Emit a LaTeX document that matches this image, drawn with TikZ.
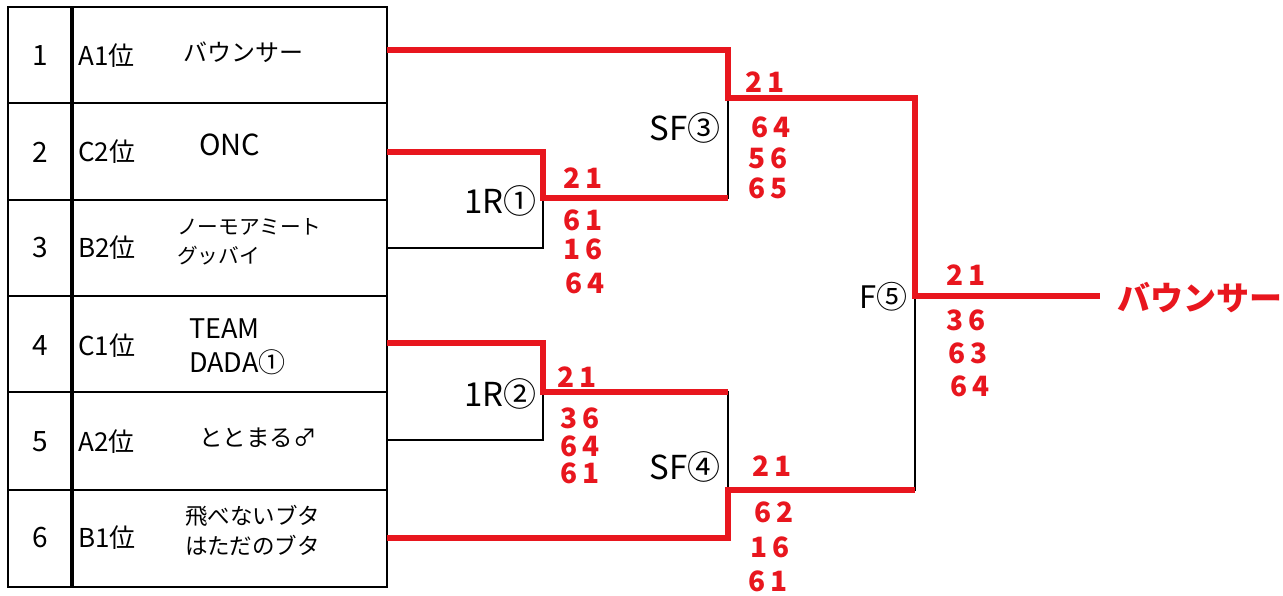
\documentclass[tikz,border=0pt]{standalone}
\usepackage{fontspec}
\setmainfont{Noto Sans CJK JP}
\definecolor{wred}{RGB}{232,22,30}
\newcommand\FsA[1]{\fontsize{#1}{#1}\selectfont}
\newcommand\scr[2]{#1\kern0.18em#2}
\begin{document}
\begin{tikzpicture}[x=1pt,y=-1pt,
  gridline/.style={line width=2.6pt,black},
  lose/.style={line width=2.8pt,black},
  win/.style={line width=6pt,wred},
  txt/.style={inner sep=0pt,text=black},
  numtxt/.style={txt,font=\FsA{28}},
  ranktxt/.style={txt,anchor=west,font=\FsA{26}},
  rnd/.style={txt,anchor=east,font=\FsA{33}},
  score/.style={inner sep=0pt,text=wred,font=\FsA{28}\bfseries}]
\useasboundingbox (0,0) rectangle (1283,596);
% table
\draw[gridline] (8,7) rectangle (387,587);
\draw[line width=3.2pt] (72,7) -- (72,587);
\foreach \yy in {103,200,296,392,490} \draw[gridline] (8,\yy) -- (387,\yy);
% numbers
\node[numtxt] (n1) at (40,56) {1};
\node[numtxt] (n2) at (40,152) {2};
\node[numtxt] (n3) at (40,248) {3};
\node[numtxt] (n4) at (40,346) {4};
\node[numtxt] (n5) at (40,442) {5};
\node[numtxt] (n6) at (40,538) {6};
% ranks
\node[ranktxt] (r1) at (78,56) {A1位};
\node[ranktxt] (r2) at (78,152) {C2位};
\node[ranktxt] (r3) at (78,248) {B2位};
\node[ranktxt] (r4) at (78,346) {C1位};
\node[ranktxt] (r5) at (78,442) {A2位};
\node[ranktxt] (r6) at (78,538) {B1位};
% team names
\node[txt,anchor=west,font=\FsA{24}] (p1) at (183,52) {バウンサー};
\node[txt,anchor=west,font=\FsA{29}] (p2) at (199,145) {ONC};
\node[txt,anchor=west,align=left,font=\fontsize{20.7}{29}\selectfont] (p3) at (177,242) {ノーモアミート\\グッバイ};
\node[txt,anchor=west,align=left,font=\fontsize{27}{34}\selectfont] (p4) at (189,347) {TEAM\\DADA①};
\node[txt,anchor=west,font=\FsA{23.5}] (p5) at (199,438) {ととまる♂};
\node[txt,anchor=west,align=left,font=\fontsize{22.5}{30}\selectfont] (p6) at (185,530) {飛べないブタ\\はただのブタ};
% bracket coordinates
\coordinate (t1) at (387,50);
\coordinate (t2) at (387,152);
\coordinate (t3) at (387,248);
\coordinate (t4) at (387,343);
\coordinate (t5) at (387,440);
\coordinate (t6) at (387,538);
\coordinate (m1a) at (543,152);
\coordinate (m1b) at (543,248);
\coordinate (m1o) at (543,198);
\coordinate (m2a) at (543,343);
\coordinate (m2b) at (543,440);
\coordinate (m2o) at (543,392);
\coordinate (s3a) at (728,50);
\coordinate (s3b) at (728,198);
\coordinate (s3o) at (728,98);
\coordinate (s4a) at (728,392);
\coordinate (s4b) at (728,538);
\coordinate (s4o) at (728,490);
\coordinate (fa) at (915,98);
\coordinate (fb) at (915,490);
\coordinate (fo) at (915,296);
\coordinate (fend) at (1100,296);
% the black bracket
\draw[lose] (t1) -- (s3a) -- (s3b) -- (m1o);
\draw[lose] (t2) -- (m1a) -- (m1b) -- (t3);
\draw[lose] (t4) -- (m2a) -- (m2b) -- (t5);
\draw[lose] (m2o) -- (s4a) -- (s4b) -- (t6);
\draw[lose] (s3o) -- (fa) -- (fb) -- (s4o);
\draw[lose] (fo) -- (fend);
% winning paths in red
\draw[win,shift={(0,-2)}] (t1) -- (s3a) -- (s3o) -- (fa) -- (fo) -- (fend);
\draw[win,shift={(0,-2)}] (t2) -- (m1a) -- (m1o) -- (s3b);
\draw[win,shift={(0,-2)}] (t4) -- (m2a) -- (m2o) -- (s4a);
\draw[win,shift={(0,2)}] (t6) -- (s4b) -- (s4o) -- (fb);
% round labels
\node[rnd] (r1r) at (537,201) {1R①};
\node[rnd] (sf3) at (721,128) {SF③};
\node[rnd] (r2r) at (537,394) {1R②};
\node[rnd] (sf4) at (721,467) {SF④};
\node[rnd,font=\FsA{31}] (fin) at (908,297) {F⑤};
% scores
\node[score] (a1) at (583,178) {\scr21};
\node[score] (a2) at (583,220) {\scr61};
\node[score] (a3) at (583,249) {\scr16};
\node[score] (a4) at (585,283) {\scr64};
\node[score] (b1) at (765,82) {\scr21};
\node[score] (b2) at (771,127) {\scr64};
\node[score] (b3) at (768,158) {\scr56};
\node[score] (b4) at (768,188) {\scr65};
\node[score] (c1) at (577,377) {\scr21};
\node[score] (c2) at (580,418) {\scr36};
\node[score] (c3) at (580,446) {\scr64};
\node[score] (c4) at (580,473) {\scr61};
\node[score] (d1) at (772,466) {\scr21};
\node[score] (d2) at (774,512) {\scr62};
\node[score] (d3) at (770,547) {\scr16};
\node[score] (d4) at (768,581) {\scr61};
\node[score] (e1) at (966,275) {\scr21};
\node[score] (e2) at (966,320) {\scr36};
\node[score] (e3) at (968,353) {\scr63};
\node[score] (e4) at (970,386) {\scr64};
\node[score,anchor=west,font=\FsA{33}\bfseries] (champ) at (1117,298) {バウンサー};
\end{tikzpicture}
\end{document}
